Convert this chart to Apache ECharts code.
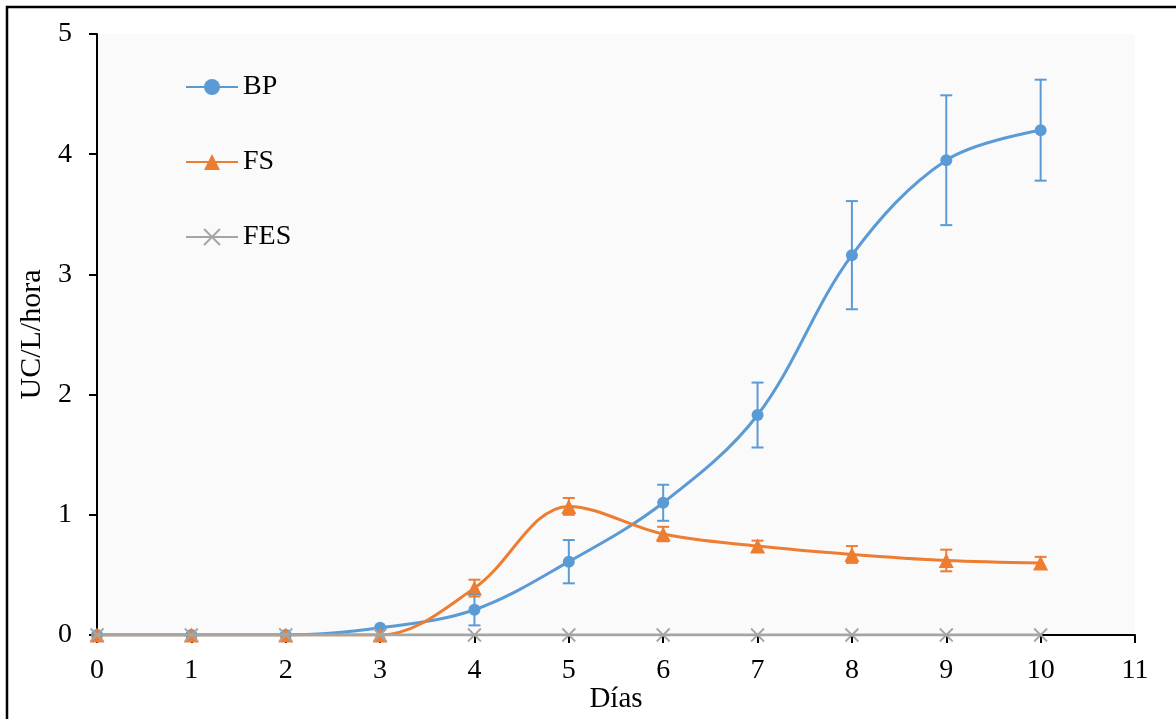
<!DOCTYPE html>
<html>
<head>
<meta charset="utf-8">
<script src="https://cdn.jsdelivr.net/npm/echarts@6/dist/echarts.min.js"></script>
<style>
html,body{margin:0;padding:0;background:#fff;}
#chart{width:1176px;height:719px;}
</style>
</head>
<body>
<div id="chart"></div>
<script>
const days = [0,1,2,3,4,5,6,7,8,9,10];
const xTicks = [0,1,2,3,4,5,6,7,8,9,10,11];
const yTicks = [0,1,2,3,4,5];
const bpValues  = [0,0,0,0.06,0.21,0.61,1.10,1.83,3.16,3.95,4.20];
const bpErrors  = [0,0,0,0,0.13,0.18,0.15,0.27,0.45,0.54,0.42];
const fsValues  = [0,0,0,0,0.39,1.07,0.84,0.74,0.67,0.62,0.60];
const fsErrors  = [0,0,0,0,0.07,0.07,0.06,0.045,0.07,0.09,0.05];
const fesValues = [0,0,0,0,0,0,0,0,0,0,0];

const BLUE = '#5b9bd5', ORANGE = '#ed7d31', GRAY = '#a5a5a5';
const FONT = "Liberation Serif";

function pairs(vals){ return days.map((d,i)=>[d, vals[i]]); }
function errData(vals, errs){
  const out = [];
  days.forEach((d,i)=>{ if (errs[i] > 0) out.push([d, vals[i]-errs[i], vals[i]+errs[i]]); });
  return out;
}
function errSeries(vals, errs, color){
  return {
    type:'custom', silent:true, z:5,
    data: errData(vals, errs),
    encode:{x:0, y:[1,2]},
    renderItem(params, api){
      const x = api.value(0);
      const lo = api.coord([x, api.value(1)]);
      const hi = api.coord([x, api.value(2)]);
      const w = 6;
      const st = {stroke: color, lineWidth: 2};
      return {type:'group', children:[
        {type:'line', shape:{x1:lo[0], y1:lo[1], x2:hi[0], y2:hi[1]}, style:st},
        {type:'line', shape:{x1:lo[0]-w, y1:lo[1], x2:lo[0]+w, y2:lo[1]}, style:st},
        {type:'line', shape:{x1:hi[0]-w, y1:hi[1], x2:hi[0]+w, y2:hi[1]}, style:st}
      ]};
    }
  };
}

const chart = echarts.init(document.getElementById('chart'), null, {renderer:'canvas'});
chart.setOption({
  animation:false,
  backgroundColor:'#ffffff',
  textStyle:{fontFamily:FONT},
  graphic:[
    {type:'rect', z:-10, shape:{x:7, y:7, width:1200, height:750}, style:{fill:'none', stroke:'#000', lineWidth:2.5}}
  ],
  grid:{left:97, right:41, top:34, bottom:84, show:true, backgroundColor:'#fafafa', borderWidth:0,
        containLabel:false, outerBoundsMode:'none'},
  legend:{
    orient:'vertical', left:185, top:73, padding:0, itemWidth:52, itemHeight:20, itemGap:47,
    textStyle:{fontFamily:FONT, fontSize:28, color:'#000', lineHeight:28},
    data:['BP','FS','FES']
  },
  xAxis:{
    type:'value', min:xTicks[0], max:xTicks[xTicks.length-1], interval:1,
    name:'Días', nameLocation:'middle', nameGap:50, nameMoveOverlap:false,
    nameTextStyle:{fontFamily:FONT, fontSize:29, color:'#000'},
    axisLine:{show:true, onZero:false, lineStyle:{color:'#000', width:2}},
    axisTick:{show:true, inside:false, length:8, lineStyle:{color:'#000', width:2}},
    axisLabel:{fontFamily:FONT, fontSize:28, color:'#000', margin:22},
    splitLine:{show:false}
  },
  yAxis:{
    type:'value', min:yTicks[0], max:yTicks[yTicks.length-1], interval:1,
    name:'UC/L/hora', nameLocation:'middle', nameGap:50, nameRotate:90, nameMoveOverlap:false,
    nameTextStyle:{fontFamily:FONT, fontSize:30, color:'#000'},
    axisLine:{show:true, lineStyle:{color:'#000', width:2}},
    axisTick:{show:true, inside:false, length:8, lineStyle:{color:'#000', width:2}},
    axisLabel:{fontFamily:FONT, fontSize:28, color:'#000', margin:25},
    splitLine:{show:false}
  },
  series:[
    {name:'BP', type:'line', smooth:0.35, data:pairs(bpValues), z:3,
     symbol:'circle', symbolSize:12,
     lineStyle:{color:BLUE, width:3}, itemStyle:{color:BLUE}},
    errSeries(bpValues, bpErrors, BLUE),
    {name:'FS', type:'line', smooth:0.35, data:pairs(fsValues), z:4,
     symbol:'triangle', symbolSize:15,
     lineStyle:{color:ORANGE, width:3}, itemStyle:{color:ORANGE}},
    errSeries(fsValues, fsErrors, ORANGE),
    {name:'FES', type:'line', smooth:0.35, data:pairs(fesValues), z:6,
     symbol:'path://M0,0L10,10M10,0L0,10', symbolSize:13,
     lineStyle:{color:GRAY, width:3},
     itemStyle:{color:GRAY, borderColor:GRAY, borderWidth:1.8}}
  ]
});
</script>
</body>
</html>
